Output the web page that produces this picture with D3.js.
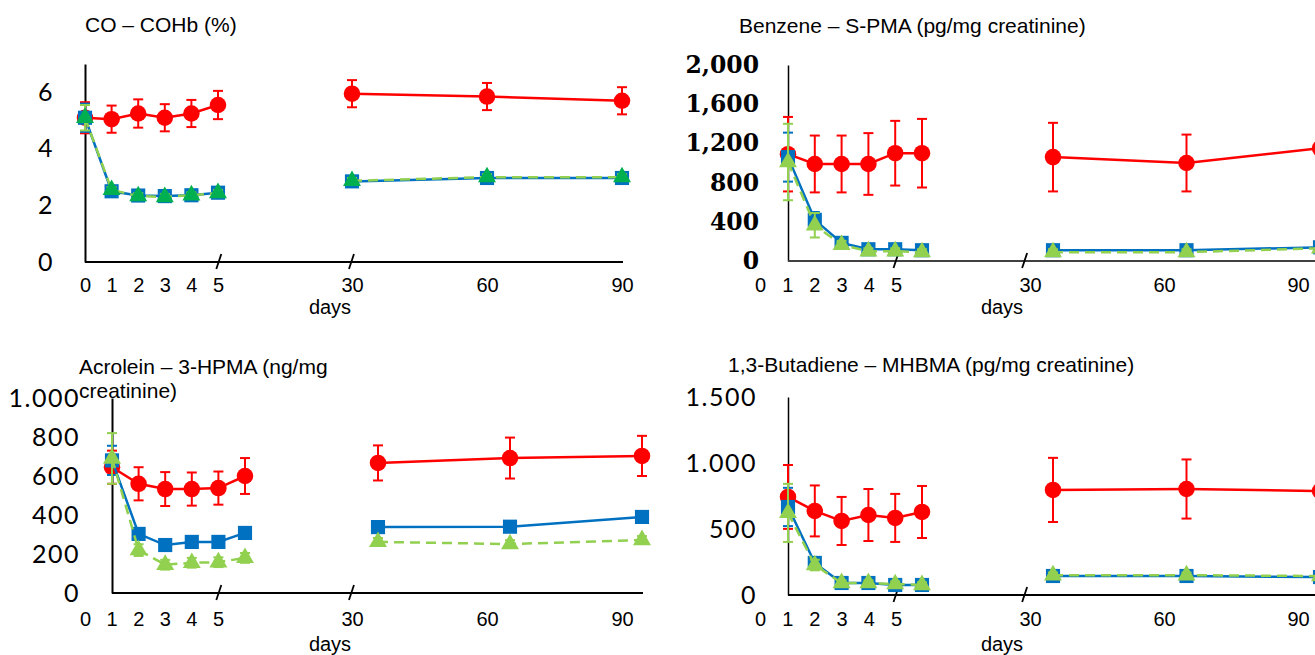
<!DOCTYPE html>
<html>
<head>
<meta charset="utf-8">
<script src="https://cdn.jsdelivr.net/npm/d3@7"></script>
<style>
  body { margin: 0; background: #fff; }
  svg { display: block; }
</style>
</head>
<body>
<div id="chart"></div>
<script>
// Sampling days and the tick labels on the broken x axis
const days = [0, 1, 2, 3, 4, 5, 30, 60, 90];
const tickDays = [0, 1, 2, 3, 4, 5, 30, 60, 90];

// CO - COHb (%)
const coRed = [5.1, 5.05, 5.25, 5.1, 5.25, 5.55, 5.95, 5.85, 5.7];
const coRedSd = [0.55, 0.48, 0.5, 0.48, 0.48, 0.5, 0.48, 0.48, 0.48];
const coBlue = [5.1, 2.5, 2.35, 2.33, 2.36, 2.45, 2.85, 2.97, 2.97];
const coBlueSd = [0.5, 0.1, 0.1, 0.1, 0.1, 0.1, 0.1, 0.1, 0.1];
const coGreen = [5.1, 2.55, 2.33, 2.3, 2.36, 2.44, 2.87, 3.0, 3.0];
const coGreenSd = [0.45, 0.1, 0.1, 0.1, 0.1, 0.1, 0.1, 0.1, 0.1];
const coTicks = [0, 2, 4, 6];

// Benzene - S-PMA (pg/mg creatinine)
const bzRed = [1090, 990, 990, 990, 1100, 1100, 1060, 1000, 1150];
const bzRedSd = [380, 290, 290, 315, 330, 350, 350, 290, 370];
const bzBlue = [1060, 420, 185, 120, 120, 110, 110, 110, 140];
const bzBlueSd = [250, 80, 40, 40, 40, 40, 30, 40, 40];
const bzGreen = [1010, 365, 165, 100, 100, 90, 90, 90, 130];
const bzGreenSd = [390, 125, 40, 30, 30, 30, 30, 30, 30];
const bzTicks = [0, 400, 800, 1200, 1600, 2000];

// Acrolein - 3-HPMA (ng/mg creatinine)
const acRed = [645, 560, 533, 533, 538, 600, 667, 692, 703];
const acRedSd = [85, 85, 87, 85, 85, 92, 90, 105, 103];
const acBlue = [680, 303, 246, 262, 262, 308, 338, 340, 390];
const acBlueSd = [75, 20, 15, 15, 15, 15, 15, 15, 15];
const acGreen = [690, 220, 145, 155, 158, 180, 262, 251, 272];
const acGreenSd = [130, 30, 25, 25, 25, 25, 20, 20, 20];
const acTicks = [0, 200, 400, 600, 800, 1000];

// 1,3-Butadiene - MHBMA (pg/mg creatinine)
const buRed = [743, 637, 561, 606, 584, 629, 796, 803, 788];
const buRedSd = [242, 193, 182, 197, 182, 197, 243, 224, 246];
const buBlue = [667, 243, 91, 91, 76, 76, 144, 144, 136];
const buBlueSd = [145, 30, 20, 20, 20, 20, 20, 20, 20];
const buGreen = [622, 227, 91, 91, 83, 76, 150, 150, 144];
const buGreenSd = [220, 40, 20, 20, 20, 20, 20, 20, 20];
const buTicks = [0, 500, 1000, 1500];

const width = 1315;
const height = 655;

const red = "#ff0000";
const blue = "#0070c0";
const lightGreen = "#92d050";
const darkGreen = "#00b050";

// comma vs. dot thousands separators, as in the original panels
const fmtComma = d3.format(",");
const dotLocale = d3.formatLocale({ decimal: ",", thousands: ".", grouping: [3], currency: ["", ""] });
const fmtDot = dotLocale.format(",");

const panels = [
  {
    title: ["CO – COHb (%)"], titleX: 85, titleY: 32,
    yDomain: [0, 7], yRange: [262, 64], yTicks: coTicks, yFormat: d3.format("d"),
    yFont: "Lato", yWeight: "normal", ySize: 25, ySpacing: 1.5, yPad: 31, yStroke: 2,
    dataRange: [85, 218, 352, 622], axisRange: [85, 218, 352, 622], xEnd: 623,
    xPad: 16, axisColor: "#000", breaks: [5.15, 29.9], daysX: 330, daysY: 314,
    triFill: darkGreen,
    series: [[coRed, coRedSd], [coBlue, coBlueSd], [coGreen, coGreenSd]]
  },
  {
    title: ["Benzene – S-PMA (pg/mg creatinine)"], titleX: 739, titleY: 33,
    yDomain: [0, 2000], yRange: [261, 65], yTicks: bzTicks, yFormat: fmtComma,
    yFont: "DejaVu Serif", yWeight: "bold", ySize: 23.5, ySpacing: 0, yPad: 29, yStroke: 1.5,
    dataRange: [788, 922, 1053, 1320], axisRange: [760, 896, 1030, 1298], xEnd: 1320,
    xPad: 17, axisColor: "#404040", breaks: [5.0, 29.0], daysX: 1002, daysY: 314,
    triFill: lightGreen,
    series: [[bzRed, bzRedSd], [bzBlue, bzBlueSd], [bzGreen, bzGreenSd]]
  },
  {
    title: ["Acrolein – 3-HPMA (ng/mg", "creatinine)"], titleX: 79, titleY: 374,
    yDomain: [0, 1000], yRange: [593, 398], yTicks: acTicks, yFormat: fmtDot,
    yFont: "Lato", yWeight: "normal", ySize: 25, ySpacing: 1.5, yPad: 32, yStroke: 2,
    dataRange: [112, 245, 378, 642], axisRange: [85, 218, 352, 622], xEnd: 643,
    xPad: 19, axisColor: "#000", breaks: [5.15, 29.9], daysX: 330, daysY: 651,
    triFill: lightGreen,
    series: [[acRed, acRedSd], [acBlue, acBlueSd], [acGreen, acGreenSd]]
  },
  {
    title: ["1,3-Butadiene – MHBMA (pg/mg creatinine)"], titleX: 728, titleY: 372,
    yDomain: [0, 1500], yRange: [595, 397], yTicks: buTicks, yFormat: fmtDot,
    yFont: "Lato", yWeight: "normal", ySize: 25, ySpacing: 1.5, yPad: 31, yStroke: 1.5,
    dataRange: [788, 922, 1053, 1320], axisRange: [760, 896, 1030, 1298], xEnd: 1320,
    xPad: 17, axisColor: "#000", breaks: [5.0, 29.0], daysX: 1002, daysY: 651,
    triFill: lightGreen,
    series: [[buRed, buRedSd], [buBlue, buBlueSd], [buGreen, buGreenSd]]
  }
];

const svg = d3.select("#chart")
  .append("svg")
  .attr("width", width)
  .attr("height", height);

svg.append("rect").attr("width", width).attr("height", height).attr("fill", "#fff");

panels.forEach(function(p) {
  const g = svg.append("g");
  const knots = [0, 5, 30, 90];
  // piecewise scales give the broken day axis
  const x = d3.scaleLinear().domain(knots).range(p.dataRange);
  const xLab = d3.scaleLinear().domain(knots).range(p.axisRange);
  const y = d3.scaleLinear().domain(p.yDomain).range(p.yRange);

  // title
  const t = g.append("text")
    .attr("x", p.titleX).attr("y", p.titleY)
    .style("font-family", "'Liberation Sans', Arial, sans-serif")
    .style("font-size", "21px")
    .attr("fill", "#000");
  p.title.forEach(function(line, i) {
    t.append("tspan").attr("x", p.titleX).attr("dy", i === 0 ? 0 : 24).text(line);
  });

  // y axis
  const yAxis = d3.axisLeft(y)
    .tickValues(p.yTicks)
    .tickFormat(p.yFormat)
    .tickSize(0)
    .tickPadding(p.yPad);
  const gy = g.append("g")
    .attr("transform", "translate(" + x(0) + ",0)")
    .call(yAxis);
  gy.select(".domain").attr("stroke", "#000").attr("stroke-width", p.yStroke);
  gy.selectAll("text")
    .attr("fill", "#000")
    .style("font-family", p.yFont)
    .style("font-weight", p.yWeight)
    .style("font-size", p.ySize + "px")
    .style("letter-spacing", p.ySpacing + "px");

  // x axis: line from the y axis, labels from the label scale
  g.append("line")
    .attr("x1", x(0)).attr("x2", p.xEnd)
    .attr("y1", y(0)).attr("y2", y(0))
    .attr("stroke", p.axisColor).attr("stroke-width", 2);

  const xAxis = d3.axisBottom(xLab)
    .tickValues(tickDays)
    .tickSize(0)
    .tickPadding(p.xPad);
  const gx = g.append("g")
    .attr("transform", "translate(0," + y(0) + ")")
    .call(xAxis);
  gx.select(".domain").remove();
  gx.selectAll("text")
    .attr("fill", "#000")
    .style("font-family", "'Liberation Sans', Arial, sans-serif")
    .style("font-size", "20px");

  // break marks
  g.selectAll(".brk")
    .data(p.breaks)
    .enter()
    .append("line")
    .attr("x1", d => xLab(d) - 2.5).attr("x2", d => xLab(d) + 2.5)
    .attr("y1", y(0) + 7).attr("y2", y(0) - 8)
    .attr("stroke", "#000").attr("stroke-width", 1.8);

  g.append("text")
    .attr("x", p.daysX).attr("y", p.daysY)
    .attr("text-anchor", "middle")
    .style("font-family", "'Liberation Sans', Arial, sans-serif")
    .style("font-size", "20px")
    .text("days");

  const styles = [
    { color: red, dash: null, shape: "circle", fill: red },
    { color: blue, dash: null, shape: "square", fill: blue },
    { color: lightGreen, dash: "10,6", shape: "triangle", fill: p.triFill }
  ];

  const line = d3.line().x(d => x(d.day)).y(d => y(d.v));

  p.series.forEach(function(s, si) {
    const st = styles[si];
    const pts = days.map((day, i) => ({ day: day, v: s[0][i], sd: s[1][i] }));
    const sg = g.append("g");

    // error bars
    const eb = sg.selectAll(".eb").data(pts).enter().append("g");
    eb.append("line")
      .attr("x1", d => x(d.day)).attr("x2", d => x(d.day))
      .attr("y1", d => y(d.v - d.sd)).attr("y2", d => y(d.v + d.sd))
      .attr("stroke", st.color).attr("stroke-width", 2);
    eb.selectAll(".cap")
      .data(d => [d.v - d.sd, d.v + d.sd].map(v => ({ day: d.day, v: v })))
      .enter().append("line")
      .attr("x1", d => x(d.day) - 5).attr("x2", d => x(d.day) + 5)
      .attr("y1", d => y(d.v)).attr("y2", d => y(d.v))
      .attr("stroke", st.color).attr("stroke-width", 2);

    // early and late segments are not joined across the break
    [pts.slice(0, 6), pts.slice(6)].forEach(function(seg) {
      sg.append("path")
        .attr("d", line(seg))
        .attr("fill", "none")
        .attr("stroke", st.color)
        .attr("stroke-width", 2.5)
        .attr("stroke-dasharray", st.dash);
    });

    // markers
    const sym = st.shape === "circle" ? d3.symbolCircle
      : st.shape === "square" ? d3.symbolSquare : d3.symbolTriangle;
    const size = st.shape === "circle" ? 215 : st.shape === "square" ? 200 : 140;
    sg.selectAll(".mk").data(pts).enter().append("path")
      .attr("d", d3.symbol().type(sym).size(size))
      .attr("transform", d => "translate(" + x(d.day) + "," + y(d.v) + ")")
      .attr("fill", st.fill);
  });
});
</script>
</body>
</html>
